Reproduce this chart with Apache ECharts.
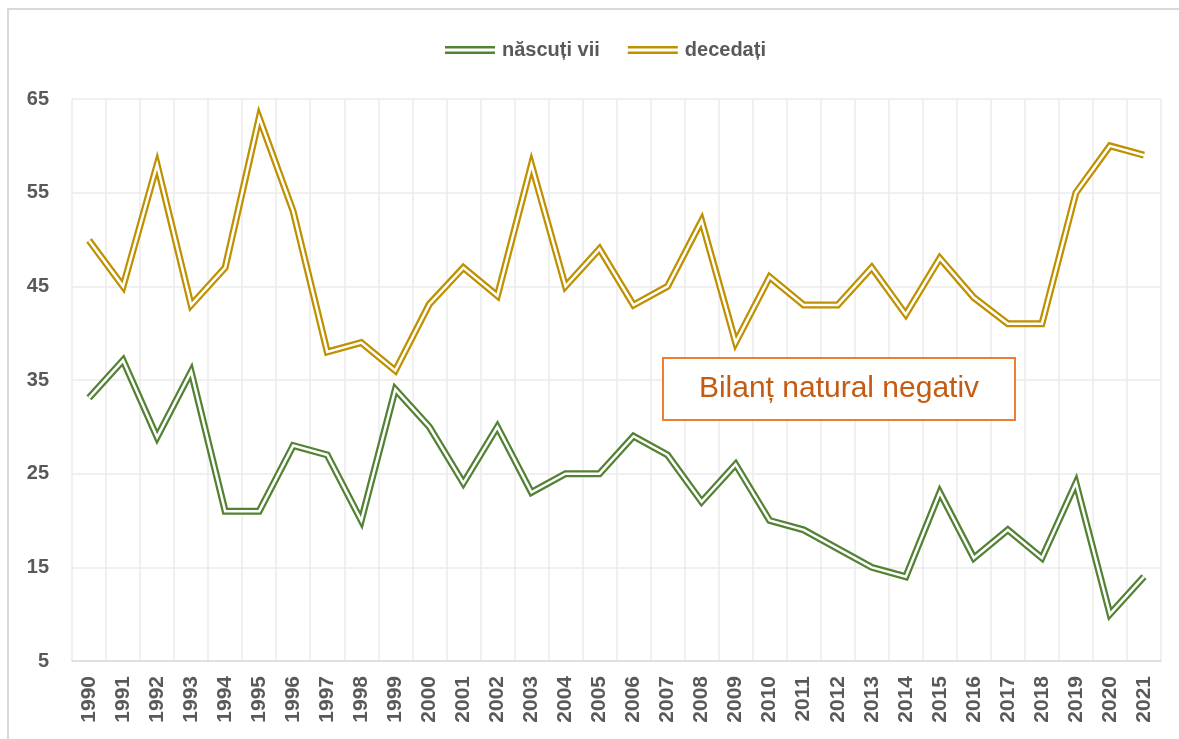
<!DOCTYPE html>
<html lang="ro">
<head>
	<meta charset="UTF-8">
	<title>născuți vii / decedați</title>
	<style>
		html, body { margin: 0; padding: 0; background: #fff; }
	</style>
</head>
<body>
	<div id="demo" style="width: 1179px;height:739px;"></div>
	<script src="https://cdn.jsdelivr.net/npm/echarts@6/dist/echarts.min.js"></script>
	<script>
		// ani
		var ani = ['1990', '1991', '1992', '1993', '1994', '1995', '1996', '1997', '1998', '1999',
			'2000', '2001', '2002', '2003', '2004', '2005', '2006', '2007', '2008', '2009',
			'2010', '2011', '2012', '2013', '2014', '2015', '2016', '2017', '2018', '2019',
			'2020', '2021'];

		// născuți vii
		var nascuti = [33.1, 37.1, 28.9, 35.9, 21.0, 21.0, 28.0, 27.0, 20.0, 34.0,
			30.0, 24.0, 30.0, 23.0, 25.0, 25.0, 29.0, 27.0, 22.0, 26.0,
			20.0, 19.0, 17.0, 15.0, 14.0, 23.0, 16.0, 19.0, 16.0, 24.0,
			10.0, 14.0];

		// decedați
		var decedati = [49.9, 45.0, 58.0, 43.0, 47.0, 63.0, 53.0, 38.0, 39.0, 36.0,
			43.1, 47.0, 44.0, 58.0, 45.0, 49.0, 43.0, 45.0, 52.0, 39.0,
			46.0, 43.0, 43.0, 47.0, 42.0, 48.0, 43.8, 41.0, 41.0, 55.0,
			60.0, 59.0];

		var culoareVerde = '#548235';
		var culoareGalben = '#BF9000';
		var gri = '#595959';
		var font = '"Liberation Sans", Arial, sans-serif';

		var myChart = echarts.init(document.getElementById('demo'));

		// linie dubla: o linie groasa colorata + o linie alba subtire deasupra
		function linie(nume, date, culoare) {
			return {
				name: nume,
				type: 'line',
				data: date,
				symbol: 'none',
				color: culoare,
				lineStyle: { width: 7, color: culoare, join: 'miter' },
				z: 2
			};
		}

		function linieAlba(nume, date) {
			return {
				name: nume,
				type: 'line',
				data: date,
				symbol: 'none',
				silent: true,
				color: '#ffffff',
				lineStyle: { width: 2.5, color: '#ffffff', join: 'miter' },
				z: 3
			};
		}

		var option = {
			animation: false,
			textStyle: { fontFamily: font },
			legend: {
				data: ['născuți vii', 'decedați'],
				left: 440,
				top: 35,
				icon: 'path://M0,0H50V2.5H0Z M0,5.5H50V8H0Z',
				itemWidth: 50,
				itemHeight: 8,
				itemGap: 28,
				itemStyle: { borderWidth: 0 },
				textStyle: { fontSize: 20, fontWeight: 'bold', color: gri, fontFamily: font, padding: [0, 0, 0, 2] }
			},
			grid: {
				left: 72,
				right: 18,
				top: 99,
				bottom: 78
			},
			xAxis: {
				type: 'category',
				data: ani,
				boundaryGap: true,
				axisLine: { show: true, lineStyle: { color: '#d9d9d9', width: 1.5 } },
				axisTick: { show: false },
				splitLine: { show: true, interval: 0, lineStyle: { color: '#ebebeb', width: 1.5 } },
				axisLabel: {
					rotate: 90,
					interval: 0,
					margin: 15,
					fontSize: 21,
					fontWeight: 'bold',
					color: gri,
					fontFamily: font
				}
			},
			yAxis: {
				type: 'value',
				min: 5,
				max: 65,
				interval: 10,
				axisLine: { show: false },
				axisTick: { show: false },
				splitLine: { lineStyle: { color: '#ebebeb', width: 1.5 } },
				axisLabel: {
					margin: 23,
					fontSize: 20,
					fontWeight: 'bold',
					color: gri,
					fontFamily: font
				}
			},
			graphic: [
				{
					type: 'rect',
					silent: true,
					z: -10,
					shape: { x: 8, y: 9, width: 1200, height: 800 },
					style: { fill: 'none', stroke: '#d9d9d9', lineWidth: 2 }
				},
				{
					type: 'rect',
					z: 100,
					shape: { x: 663, y: 358, width: 352, height: 62 },
					style: { fill: '#ffffff', stroke: '#ED7D31', lineWidth: 2 }
				},
				{
					type: 'text',
					z: 101,
					x: 839,
					y: 389,
					style: {
						text: 'Bilanț natural negativ',
						fill: '#C55A11',
						font: '30px "Liberation Sans", Arial, sans-serif',
						align: 'center',
						verticalAlign: 'middle'
					}
				}
			],
			series: [
				linie('născuți vii', nascuti, culoareVerde),
				linieAlba('născuți vii alb', nascuti),
				linie('decedați', decedati, culoareGalben),
				linieAlba('decedați alb', decedati)
			]
		};

		myChart.setOption(option);
	</script>
</body>
</html>
